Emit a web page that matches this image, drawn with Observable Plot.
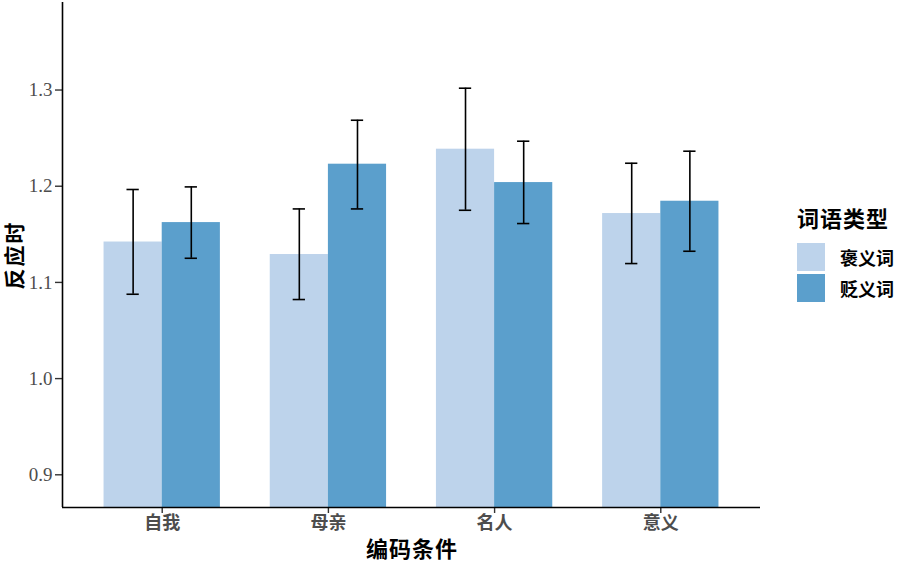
<!DOCTYPE html>
<html>
<head>
<meta charset="utf-8">
<script src="https://cdn.jsdelivr.net/npm/d3@7"></script>
<script src="https://cdn.jsdelivr.net/npm/@observablehq/plot@0.6"></script>
<style>
  html, body { margin: 0; padding: 0; background: #fff; }
  #wrap { position: relative; width: 911px; height: 563px; }
  .title { position: absolute; font-family: "Noto Sans CJK SC", sans-serif; font-weight: bold; font-size: 22px; line-height: 1; color: #000; white-space: nowrap; letter-spacing: 1px; }
  #xtitle { left: 412px; top: 547px; transform: translate(-50%, -50%); }
  #legend { position: absolute; left: 797px; top: 204px; font-family: "Noto Sans CJK SC", sans-serif; }
  #legend .lt { font-weight: bold; font-size: 22px; line-height: 26px; margin-bottom: 11px; letter-spacing: 1px; }
  #legend .row { display: flex; align-items: center; height: 31px; }
  #legend .key { width: 28px; height: 28px; margin-right: 15px; }
  #legend .lab { font-weight: bold; font-size: 18px; }
  svg g[aria-label$='tick label'] text { fill: #4d4d4d; }
</style>
</head>
<body>
<div id="wrap">
  <div id="chart"></div>
  <div id="xtitle" class="title">编码条件</div>
  <div id="legend"></div>
</div>
<script>
const conditions = ["自我", "母亲", "名人", "意义"];
const types = ["褒义词", "贬义词"];
const colors = ["#bdd3eb", "#5b9fcc"];
const yTicks = [0.9, 1.0, 1.1, 1.2, 1.3];
const yTitle = "反应时";

// mean reaction time per condition
const meanPos = [1.142, 1.129, 1.2385, 1.1716];
const meanNeg = [1.1622, 1.2229, 1.2038, 1.1844];
// error bar bounds
const lowPos = [1.0877, 1.0822, 1.175, 1.1196];
const highPos = [1.1966, 1.1764, 1.3019, 1.2239];
const lowNeg = [1.1251, 1.1764, 1.1612, 1.1324];
const highNeg = [1.1993, 1.2686, 1.2468, 1.2364];

const yDomain = [0.866, 1.391];
const dodge = 0.35;   // bar width in category units
const capHalf = 0.037;

const rows = [];
conditions.forEach((c, i) => {
  [[meanPos, lowPos, highPos], [meanNeg, lowNeg, highNeg]].forEach(([m, lo, hi], j) => {
    const x1 = (i + 1) + (j === 0 ? -dodge : 0);
    rows.push({
      cond: c, type: types[j], x1, x2: x1 + dodge, xc: x1 + dodge / 2,
      mean: m[i], lo: lo[i], hi: hi[i]
    });
  });
});

const plot = Plot.plot({
  width: 911,
  height: 563,
  marginLeft: 62,
  marginRight: 151,
  marginTop: 2,
  marginBottom: 56,
  style: { fontFamily: "'Liberation Serif', 'Noto Sans CJK SC', serif", background: "#fff" },
  x: {
    domain: [0.4, 4.6],
    ticks: [1, 2, 3, 4],
    tickFormat: d => conditions[d - 1],
    tickSize: 6,
    tickPadding: 3,
    label: null
  },
  y: {
    domain: yDomain,
    ticks: yTicks,
    tickFormat: d3.format(".1f"),
    tickSize: 7,
    tickPadding: 3,
    label: null
  },
  color: { domain: types, range: colors },
  marks: [
    Plot.rectY(rows, { x1: "x1", x2: "x2", y1: yDomain[0], y2: "mean", fill: "type", clip: true }),
    Plot.ruleX(rows, { x: "xc", y1: "lo", y2: "hi", stroke: "#000", strokeWidth: 1.6 }),
    Plot.ruleY(rows, { y: "hi", x1: d => d.xc - capHalf, x2: d => d.xc + capHalf, stroke: "#000", strokeWidth: 1.6 }),
    Plot.ruleY(rows, { y: "lo", x1: d => d.xc - capHalf, x2: d => d.xc + capHalf, stroke: "#000", strokeWidth: 1.6 }),
    Plot.ruleX([0.4], { stroke: "#000", strokeWidth: 1.6 }),
    Plot.ruleY([yDomain[0]], { stroke: "#000", strokeWidth: 1.6 }),
    Plot.text([yTitle], {
      text: d => d, frameAnchor: "left", dx: -47, rotate: -90,
      textAnchor: "middle", lineAnchor: "middle",
      fontSize: 21, fontWeight: "bold", fill: "#000",
      fontFamily: "'Noto Sans CJK SC', sans-serif"
    })
  ]
});
document.getElementById("chart").appendChild(plot);

// style axes
const ylab = plot.querySelector("g[aria-label='y-axis tick label']");
if (ylab) { ylab.setAttribute("font-size", "19"); ylab.style.fontSize = "19px"; }
const xlab = plot.querySelector("g[aria-label='x-axis tick label']");
if (xlab) { xlab.setAttribute("font-size", "18"); xlab.style.fontSize = "18px"; xlab.style.fontWeight = "bold"; xlab.style.fontFamily = "'Noto Sans CJK SC', sans-serif"; }
plot.querySelectorAll("g[aria-label='x-axis tick'], g[aria-label='y-axis tick']").forEach(g => {
  g.setAttribute("stroke", "#333"); g.setAttribute("stroke-width", "1.4");
});
const yt = plot.querySelector("g[aria-label='text'] text");
if (yt) yt.style.letterSpacing = "2px";

// legend
const legend = document.getElementById("legend");
const lt = document.createElement("div");
lt.className = "lt"; lt.textContent = "词语类型";
legend.appendChild(lt);
types.forEach((t, j) => {
  const row = document.createElement("div"); row.className = "row";
  const key = document.createElement("div"); key.className = "key"; key.style.background = colors[j];
  const lab = document.createElement("div"); lab.className = "lab"; lab.textContent = t;
  row.appendChild(key); row.appendChild(lab); legend.appendChild(row);
});
</script>
</body>
</html>
